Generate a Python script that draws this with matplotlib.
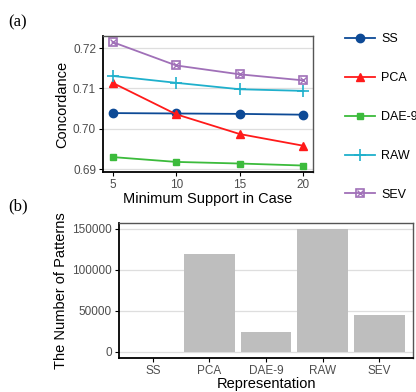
import matplotlib.pyplot as plt
from matplotlib.legend_handler import HandlerTuple

plt.rcParams['font.family'] = ['Liberation Sans', 'DejaVu Sans']

support = [5, 10, 15, 20]
ss = [0.7039, 0.7038, 0.7037, 0.7035]
pca = [0.7114, 0.7036, 0.6987, 0.6958]
dae9 = [0.6930, 0.6918, 0.6914, 0.6909]
raw = [0.7131, 0.7114, 0.7098, 0.7094]
sev = [0.7215, 0.7157, 0.7135, 0.7120]

reps = ['SS', 'PCA', 'DAE-9', 'RAW', 'SEV']
n_patterns = [300, 119300, 23600, 149300, 45300]

tick_col = '#4d4d4d'
grid_col = '#dedede'

fig = plt.figure(figsize=(4.16, 3.92), dpi=100)
W, H = 416, 392

def axes_px(l, t, r, b):
    return fig.add_axes([l / W, 1 - b / H, (r - l) / W, (b - t) / H])

def style(ax):
    ax.set_facecolor('white')
    for s in ['top', 'right']:
        ax.spines[s].set_color('#555555')
        ax.spines[s].set_linewidth(1.0)
    for s in ['left', 'bottom']:
        ax.spines[s].set_color('black')
        ax.spines[s].set_linewidth(1.3)
    ax.tick_params(colors=tick_col, labelsize=8.5, length=3, width=0.8, pad=2)
    ax.tick_params(axis='both', color='black')
    ax.yaxis.grid(True, color=grid_col, linewidth=0.9)
    ax.set_axisbelow(True)

# (a) concordance
ax1 = axes_px(103, 36, 313, 172)
style(ax1)
h_ss, = ax1.plot(support, ss, color='#0d4a96', marker='o', markersize=6, lw=1.3)
h_pca, = ax1.plot(support, pca, color='#ff1a1a', marker='^', markersize=6, lw=1.3)
h_dae, = ax1.plot(support, dae9, color='#3cbb3c', marker='s', markersize=5, lw=1.3)
h_raw, = ax1.plot(support, raw, color='#1fb0cc', marker='+', markersize=9, mew=1.2, lw=1.3)
h_sev, = ax1.plot(support, sev, color='#a070b8', marker='s', markersize=6, mfc='none', mew=1.2, lw=1.3)
h_sev2, = ax1.plot(support, sev, color='#a070b8', marker='x', markersize=5, mew=1.0, lw=0)
ax1.set_xlim(4.25, 20.75)
ax1.set_ylim(0.6893, 0.7230)
ax1.set_xticks(support)
ax1.set_yticks([0.69, 0.70, 0.71, 0.72])
ax1.set_yticklabels(['0.69', '0.70', '0.71', '0.72'])
ax1.set_xlabel('Minimum Support in Case', fontsize=10.5, labelpad=1)
ax1.set_ylabel('Concordance', fontsize=10.5, labelpad=3)

leg = fig.legend([h_ss, h_pca, h_dae, h_raw, (h_sev, h_sev2)], reps,
                 loc='upper left', bbox_to_anchor=(334 / W, 1 - 22 / H),
                 frameon=False, fontsize=9, handlelength=2.4, labelspacing=2.15,
                 handletextpad=0.5, handler_map={tuple: HandlerTuple(ndivide=1, pad=0)})

# (b) number of patterns
ax2 = axes_px(119, 223, 413, 358)
style(ax2)
ax2.bar(range(len(reps)), n_patterns, width=0.9, color='#bebebe')
ax2.set_xlim(-0.6, 4.6)
ax2.set_ylim(-7500, 157000)
ax2.set_xticks(range(len(reps)))
ax2.set_xticklabels(reps)
ax2.set_yticks([0, 50000, 100000, 150000])
ax2.set_yticklabels(['0', '50000', '100000', '150000'])
ax2.set_xlabel('Representation', fontsize=10.5, labelpad=0)
ax2.set_ylabel('The Number of Patterns', fontsize=10.5, labelpad=3)

fig.text(8 / W, 1 - 22 / H, '(a)', fontsize=12, family='Liberation Serif', va='center')
fig.text(8 / W, 1 - 206 / H, '(b)', fontsize=12, family='Liberation Serif', va='center')

fig.savefig('out.png', dpi=100)
